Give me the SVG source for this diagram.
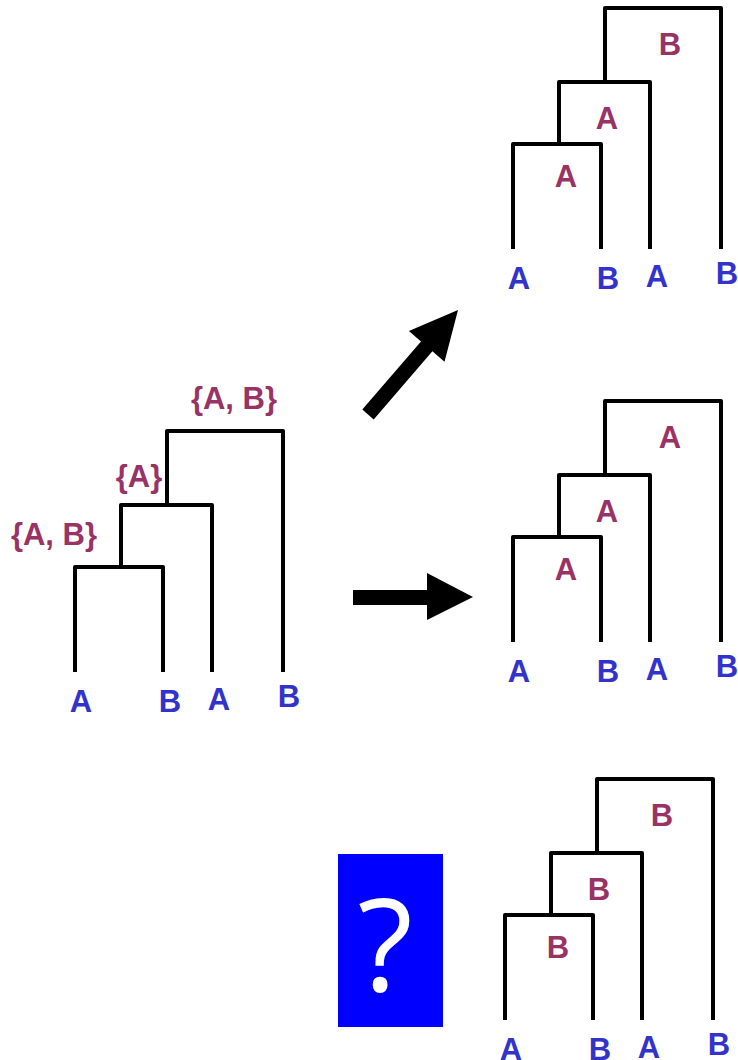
<svg xmlns="http://www.w3.org/2000/svg" xmlns:xlink="http://www.w3.org/1999/xlink" width="738" height="1060" viewBox="0 0 738 1060">
  <style>
    .branch { fill: none; stroke: #000; stroke-width: 4; stroke-linejoin: round; stroke-linecap: butt; }
    .state { font-family: "Liberation Sans", Arial, sans-serif; font-weight: bold; font-size: 31px; fill: #993366; text-anchor: middle; }
    .tip { font-family: "Liberation Sans", Arial, sans-serif; font-weight: bold; font-size: 31px; fill: #3333cc; text-anchor: middle; }
    .arrow { fill: #000; stroke: none; }
    .mark { font-family: "Open Sans", "Liberation Sans", sans-serif; font-size: 128px; fill: #fff; text-anchor: middle; }
  </style>
  <defs>
    <!-- four-tip ladder tree: ((A,B),A),B -->
    <path id="ladder" class="branch" d="M75,672 V567 H163 V672 M121,567 V505 H212 V672 M167,505 V431 H283 V672"/>
    <g id="tips">
      <text class="tip" x="81" y="712">A</text>
      <text class="tip" x="170" y="712">B</text>
      <text class="tip" x="219" y="710">A</text>
      <text class="tip" x="289" y="707">B</text>
    </g>
  </defs>

  <!-- source tree with ancestral state sets -->
  <g id="tree-source">
    <use xlink:href="#ladder" href="#ladder"/>
    <use xlink:href="#tips" href="#tips"/>
    <text class="state" x="234" y="409">{A, B}</text>
    <text class="state" x="139" y="487">{A}</text>
    <text class="state" x="54" y="545">{A, B}</text>
  </g>

  <!-- reconstruction: B, A, A -->
  <g id="tree-top" transform="translate(438,-423)">
    <use xlink:href="#ladder" href="#ladder"/>
    <use xlink:href="#tips" href="#tips"/>
    <text class="state" x="232" y="478">B</text>
    <text class="state" x="169" y="552">A</text>
    <text class="state" x="128" y="610">A</text>
  </g>

  <!-- reconstruction: A, A, A -->
  <g id="tree-middle" transform="translate(438,-30)">
    <use xlink:href="#ladder" href="#ladder"/>
    <use xlink:href="#tips" href="#tips"/>
    <text class="state" x="232" y="478">A</text>
    <text class="state" x="169" y="552">A</text>
    <text class="state" x="128" y="610">A</text>
  </g>

  <!-- reconstruction: B, B, B -->
  <g id="tree-bottom" transform="translate(430,348)">
    <use xlink:href="#ladder" href="#ladder"/>
    <use xlink:href="#tips" href="#tips"/>
    <text class="state" x="232" y="478">B</text>
    <text class="state" x="169" y="552">B</text>
    <text class="state" x="128" y="610">B</text>
  </g>

  <!-- unknown case -->
  <g id="unknown">
    <rect x="338" y="854" width="105" height="173" fill="#0000ff"/>
    <text class="mark" x="385" y="991">?</text>
  </g>

  <!-- block arrows -->
  <g id="connectors">
    <polygon class="arrow" points="362.3,409.6 421,341.5 408.9,331.1 458,310 444.5,361.7 432.4,351.3 373.7,419.4"/>
    <polygon class="arrow" points="353,590 427,590 427,573 473,597 427,620 427,605 353,605"/>
  </g>
</svg>
